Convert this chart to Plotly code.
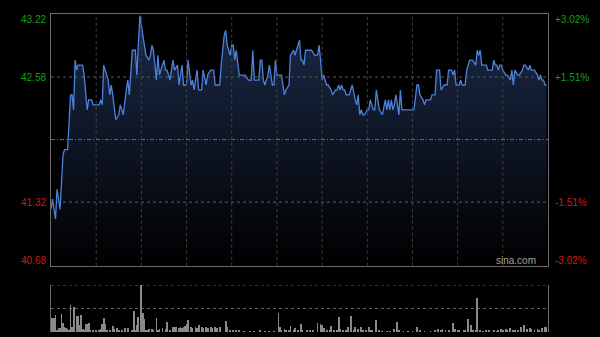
import plotly.graph_objects as go

# ---- data (HK session, minutes from 09:30, 330 trading minutes) ----
prev_close = 41.95
y_ticks_left = ["43.22", "42.58", "41.32", "40.68"]
y_tick_vals = [43.22, 42.58, 41.32, 40.68]
y_ticks_right = ["+3.02%", "+1.51%", "-1.51%", "-3.02%"]

price_min = [0, 1, 3, 4, 6, 7, 8, 9, 11, 13, 14, 15, 16, 17, 18, 21, 22, 24, 25, 27, 28, 32, 33, 34, 35, 37, 38, 39, 40, 41,
             43, 45, 46, 47, 48, 50, 51, 52, 54, 56, 57, 59, 60, 61, 63, 65, 66, 67, 68, 70, 71, 72, 74, 75, 76, 77, 79, 81, 82,
             84, 85, 86, 87, 88, 90, 91, 92, 93, 94, 95, 97, 98, 100, 101, 103, 104, 106, 108, 109, 112, 113, 115, 116, 117,
             119, 120, 121, 122, 123, 124, 125, 129, 131, 133, 134, 135, 138, 139, 140, 141, 142, 144, 145, 147, 148, 149,
             150, 153, 154, 155, 156, 158, 159, 161, 162, 164, 165,
             166, 167, 168, 169, 173, 175, 177, 178, 179, 180, 181, 183, 184, 186, 187, 189, 190, 191, 192, 193, 194, 195,
             196, 198, 200, 201, 202, 203, 204, 205, 206, 207, 208, 210, 211, 212, 214, 215, 216, 217, 218, 220, 221, 222,
             223, 224, 225, 226, 227, 228, 229, 231, 232, 233, 241, 242, 243, 244, 245, 247, 248,
             249, 252, 253, 255, 256, 257, 258, 259, 261, 263, 264, 266, 267, 268, 269, 271, 272, 273, 275, 276, 277, 278,
             280, 282, 283, 284, 285, 286, 287, 289, 290, 293, 294, 295, 296, 297, 298, 299, 300, 302, 303, 305, 306, 307,
             308, 310, 311, 313, 314, 315, 317, 318, 319, 321, 323, 324, 325, 326, 327, 328, 329]
price_val = [41.25, 41.35, 41.15, 41.45, 41.25, 41.50, 41.80, 41.85, 41.85, 42.40, 42.40, 42.25, 42.75, 42.65, 42.70, 42.70,
             42.60, 42.25, 42.35, 42.35, 42.30, 42.30, 42.35, 42.30, 42.70, 42.60, 42.55, 42.40, 42.50, 42.40,
             42.15, 42.20, 42.30, 42.25, 42.20, 42.45, 42.55, 42.40, 42.85, 42.85, 42.60, 43.20, 43.10, 42.95, 42.80, 42.75,
             42.80, 42.90, 42.85, 42.55, 42.80, 42.60, 42.70, 42.75, 42.65, 42.65, 42.55, 42.75, 42.65,
             42.70, 42.50, 42.60, 42.70, 42.50, 42.50, 42.75, 42.60, 42.50, 42.55, 42.45, 42.65, 42.45, 42.45, 42.65, 42.50,
             42.60, 42.65, 42.65, 42.50, 42.50, 42.70, 43.00, 43.05, 42.90,
             42.80, 42.90, 42.90, 42.75, 42.85, 42.75, 42.60, 42.60, 42.55, 42.55, 42.85, 42.55, 42.55, 42.75, 42.75, 42.55,
             42.50, 42.60, 42.70, 42.50, 42.50, 42.75,
             42.60, 42.60, 42.50, 42.40, 42.45, 42.50, 42.80, 42.85, 42.80, 42.90, 42.95,
             42.75, 42.75, 42.70, 42.85, 42.85, 42.80, 42.80, 42.90, 42.75, 42.55, 42.60, 42.50, 42.50, 42.45, 42.40, 42.45,
             42.45, 42.50, 42.45, 42.50, 42.45, 42.45,
             42.40, 42.40, 42.50, 42.40, 42.35, 42.30, 42.40, 42.20, 42.25, 42.20, 42.20, 42.25, 42.25, 42.35, 42.25, 42.25,
             42.45, 42.35, 42.25, 42.20, 42.30, 42.35,
             42.25, 42.35, 42.25, 42.35, 42.25, 42.30, 42.40, 42.20, 42.45, 42.25, 42.25, 42.40, 42.50, 42.50, 42.40, 42.35,
             42.30,
             42.35, 42.35, 42.40, 42.40, 42.65, 42.65, 42.65, 42.45, 42.50, 42.50, 42.65, 42.65, 42.60, 42.65, 42.50, 42.50,
             42.55, 42.50, 42.50, 42.65, 42.70, 42.75,
             42.75, 42.70, 42.85, 42.80, 42.85, 42.70, 42.70, 42.70, 42.65, 42.65, 42.75, 42.70, 42.70, 42.65, 42.70, 42.70,
             42.65, 42.60, 42.60, 42.55, 42.65, 42.50,
             42.65, 42.60, 42.60, 42.65, 42.70, 42.70, 42.65, 42.70, 42.65, 42.65, 42.60, 42.55, 42.60, 42.55, 42.55, 42.50,
             42.50]

vol_min = [0, 1, 2, 3, 4, 5, 6, 7, 8, 9, 10, 11, 12, 13, 14, 15, 17, 18, 19, 20, 21, 22, 23, 24, 25, 26, 28, 30, 32, 33,
           34, 35, 36, 37, 39, 41, 42, 44, 45, 47, 49, 51, 54, 55, 56, 57, 58, 60, 61, 62, 63, 64, 65, 67, 68, 70, 71, 72,
           74, 76, 77, 79, 81, 82, 83, 85, 86, 87, 88, 89, 90, 91, 93, 94, 96, 97, 98, 100, 101, 103, 104, 106, 107, 109,
           110, 112, 116, 117, 119, 121, 123, 125, 128, 132, 135, 139, 142, 145, 148, 151, 152, 153, 155, 156, 158, 159,
           161, 162, 164,
           166, 167, 170, 172, 174, 177, 179, 180, 181, 183, 185, 186, 188, 190, 191, 192, 194, 196, 197, 199, 201, 202,
           204, 206, 207, 209, 211, 212, 213, 216, 218, 220, 223, 225, 228, 230, 231, 234, 237, 240, 243, 245, 248, 252,
           255, 257, 259, 260, 262, 264, 267, 268, 270, 271, 274, 275, 277, 279, 280, 282, 283, 285, 287, 289, 291, 294,
           296, 297, 299, 300, 302, 303, 305, 307, 308, 310, 312, 314, 316, 318, 319, 321, 323, 324, 326, 328, 329]
vol_val = [29, 29, 29, 36, 4, 8, 8, 38, 20, 11, 8, 6, 4, 57, 11, 54, 33, 33, 15, 36, 6, 4, 17, 18, 20, 4, 3, 4, 3, 6,
           18, 29, 17, 4, 4, 13, 6, 8, 3, 4, 8, 9, 4, 45, 4, 15, 31, 100, 40, 27, 4, 3, 6, 7, 3, 29, 4, 6,
           8, 6, 22, 4, 11, 10, 10, 8, 10, 8, 10, 13, 17, 26, 10, 8, 10, 8, 15, 10, 8, 10, 8, 10, 8, 10,
           8, 10, 24, 10, 4, 4, 3, 3, 2, 2, 2, 3, 2, 2, 2, 40, 10, 4, 6, 4, 3, 13,
           4, 8, 4,
           17, 4, 4, 3, 3, 20, 17, 15, 8, 4, 3, 13, 4, 4, 32, 6, 3, 4, 10, 35, 4, 10,
           6, 10, 4, 3, 10, 4, 4, 26, 3, 2, 2, 2, 6, 22, 3, 2, 2, 2, 10, 3, 2, 2,
           3, 6, 3, 7, 3, 4, 20, 6, 3, 3, 3, 3, 27, 15, 4, 3, 72, 3, 2, 3, 3, 3,
           2, 3, 7, 3, 7, 4, 8, 3, 3, 3, 11, 15, 6, 8, 6, 3, 7, 4, 8, 10, 10]

grid_minutes = [30, 60, 90, 120, 150, 180, 210, 240, 270, 300]

# ---- styles ----
GREEN = "#10a010"
RED = "#d81515"
LINE = "#4d82dc"
FONT = "Liberation Sans, Arial, sans-serif"

fig = go.Figure()

fig.add_trace(go.Scatter(
    x=price_min, y=price_val, mode="lines",
    line=dict(color=LINE, width=1.3),
    fill="tozeroy",
    fillgradient=dict(type="vertical",
                      colorscale=[[0, "#000000"], [1, "#1c2b49"]],
                      start=y_tick_vals[-1], stop=y_tick_vals[0]),
    xaxis="x", yaxis="y", hoverinfo="skip", showlegend=False))

fig.add_trace(go.Bar(
    x=vol_min, y=vol_val, width=0.55,
    marker=dict(color="#8a8a8a", line=dict(width=0)),
    xaxis="x2", yaxis="y2", hoverinfo="skip", showlegend=False))

fig.update_layout(
    width=600, height=337,
    margin=dict(l=0, r=0, t=0, b=0),
    paper_bgcolor="#000000", plot_bgcolor="#000000",
    font=dict(family=FONT, size=10, color="#999"),
    bargap=0,
    xaxis=dict(domain=[51 / 600, 548 / 600], range=[0, 330], anchor="y",
               showticklabels=False, ticks="", showgrid=False,
               zeroline=False, showline=True, mirror=True, linecolor="#6a6a6a", linewidth=1),
    yaxis=dict(domain=[(337 - 265.7) / 337, (337 - 13.5) / 337], range=[y_tick_vals[-1], y_tick_vals[0]],
               anchor="x", showticklabels=False, ticks="", showgrid=False,
               zeroline=False, showline=True, mirror=True, linecolor="#6a6a6a", linewidth=1),
    xaxis2=dict(domain=[51 / 600, 548 / 600], range=[0, 330], anchor="y2",
                showticklabels=False, ticks="", showgrid=False, zeroline=False, showline=False),
    yaxis2=dict(domain=[5 / 337, (337 - 285) / 337], range=[0, 100], anchor="x2",
                showticklabels=False, ticks="", showgrid=False, zeroline=False,
                showline=True, mirror=True, linecolor="#6a6a6a", linewidth=1),
)

# vertical half-hour grid lines (drawn over the fill)
for m in grid_minutes:
    fig.add_shape(type="line", xref="x", x0=m, x1=m, yref="y domain", y0=0, y1=1,
                  line=dict(color="#424242", width=1, dash="dot"), layer="above")
# horizontal dotted grid lines
for v in [y_tick_vals[1], y_tick_vals[2]]:
    fig.add_shape(type="line", xref="x domain", x0=0, x1=1, yref="y", y0=v, y1=v,
                  line=dict(color="#5c5c5c", width=1, dash="dot"), layer="above")
# previous close line
fig.add_shape(type="line", xref="x domain", x0=0, x1=1, yref="y", y0=prev_close, y1=prev_close,
              line=dict(color="#6e6e6e", width=1, dash="4px,2px,1px,2px"), layer="above")
# volume panel dotted lines
for v in [100, 50]:
    fig.add_shape(type="line", xref="x2 domain", x0=0, x1=1, yref="y2", y0=v, y1=v,
                  line=dict(color="#5e5e5e", width=1, dash="dot"), layer="below")

anchors = ["top", "middle", "middle", "bottom"]
shifts = [2, 0, 0, -2]
for i, (val, lt, rt) in enumerate(zip(y_tick_vals, y_ticks_left, y_ticks_right)):
    col = GREEN if val > prev_close else RED
    fig.add_annotation(x=48 / 600, xref="paper", xanchor="right", y=val, yref="y", yanchor=anchors[i],
                       yshift=shifts[i], text=lt, showarrow=False, font=dict(family=FONT, size=10, color=col))
    fig.add_annotation(x=553 / 600, xref="paper", xanchor="left", y=val, yref="y", yanchor=anchors[i],
                       yshift=shifts[i], text=rt, showarrow=False, font=dict(family=FONT, size=10, color=col))

fig.add_annotation(x=538 / 600, xref="paper", xanchor="right", y=y_tick_vals[-1], yref="y", yanchor="bottom",
                   yshift=-2, text="sina.com", showarrow=False, font=dict(family=FONT, size=10, color="#a0a0a0"))

fig.write_html("out.html")
